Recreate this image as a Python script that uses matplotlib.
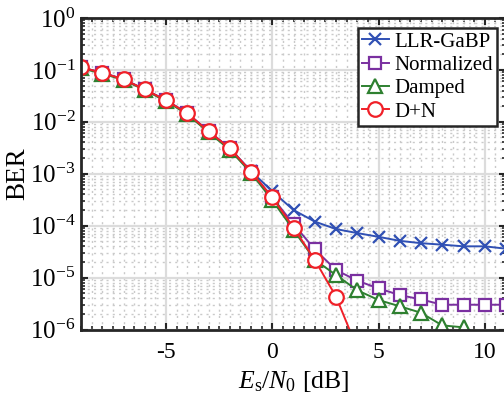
import numpy as np
import matplotlib
matplotlib.use("Agg")
import matplotlib.pyplot as plt
import matplotlib.ticker as mticker

plt.rcParams.update({
    "font.family": ["Liberation Serif", "DejaVu Serif"],
    "mathtext.fontset": "custom",
    "mathtext.rm": "Liberation Serif",
    "mathtext.it": "Liberation Serif:italic",
    "font.size": 15,
})

# Es/N0 [dB]
snr = np.arange(-9, 12)

ber_llr = [0.112, 0.088, 0.066, 0.042, 0.026, 0.0146, 0.0066, 0.0031, 0.00112,
           4.6e-4, 2.0e-4, 1.2e-4, 8.6e-5, 7.2e-5, 6.1e-5, 5.1e-5, 4.6e-5, 4.3e-5,
           4.0e-5, 4.0e-5, 3.6e-5]
ber_norm = [0.112, 0.088, 0.066, 0.042, 0.026, 0.0146, 0.0066, 0.0031, 0.00110,
            3.5e-4, 1.07e-4, 3.5e-5, 1.4e-5, 8.7e-6, 6.2e-6, 4.6e-6, 3.8e-6, 3.0e-6,
            3.0e-6, 3.0e-6, 3.0e-6]
ber_damp = [0.108, 0.085, 0.064, 0.041, 0.025, 0.0140, 0.0063, 0.0029, 0.00104,
            3.1e-4, 8.3e-5, 2.2e-5, 1.12e-5, 5.7e-6, 3.7e-6, 2.8e-6, 2.1e-6, 1.2e-6,
            1.1e-6, 7.0e-7, 6.0e-7]
ber_dn = [0.112, 0.088, 0.066, 0.042, 0.026, 0.0146, 0.0066, 0.0031, 0.00110,
          3.5e-4, 9.2e-5, 2.2e-5, 4.3e-6, 4.3e-7, 4.0e-8, 4.0e-9, 4.0e-10, 4.0e-11,
          4.0e-12, 4.0e-13, 4.0e-14]

C_BLUE, C_PURP, C_GREEN, C_RED = "#3050b4", "#7a30a0", "#2e8030", "#f02028"

fig = plt.figure(figsize=(5.04, 4.0), dpi=100)
ax = fig.add_axes([81 / 504, 1 - 329.5 / 400, 425 / 504, 311.5 / 400])

ax.semilogy(snr, ber_llr, "-x", color=C_BLUE, lw=1.4, ms=8, mew=1.6, label="LLR-GaBP")
ax.semilogy(snr, ber_norm, "-s", color=C_PURP, lw=1.4, ms=8.5, mew=1.6, mfc="white",
            label="Normalized")
ax.semilogy(snr, ber_damp, "-^", color=C_GREEN, lw=1.4, ms=10, mew=1.6, mfc="white",
            label="Damped")
ax.semilogy(snr, ber_dn, "-o", color=C_RED, lw=1.4, ms=10.5, mew=1.6, mfc="white",
            label="D+N")

ax.set_xlim(-9, 11)
ax.set_ylim(1e-6, 1)
ax.set_xticks([-5, 0, 5, 10])
ax.set_xticklabels(["-5", "0", "5", "10"])
ax.xaxis.set_minor_locator(mticker.MultipleLocator(0.5))
ax.yaxis.set_minor_locator(mticker.LogLocator(base=10, subs=np.arange(2, 10), numticks=20))
ax.yaxis.set_minor_formatter(mticker.NullFormatter())
ax.set_yticks([10.0 ** k for k in range(-6, 1)])
ax.set_yticklabels([r"$\mathregular{10^{%d}}$" % k for k in range(-6, 1)])

ax.grid(True, which="major", color="#dcdcdc", lw=1.6, ls="-")
ax.grid(True, which="minor", color="#cacaca", lw=1.0, ls=(0, (1.5, 3)))
ax.set_axisbelow(True)

ax.tick_params(which="both", direction="in", top=True, right=True, color="#262626")
ax.tick_params(which="major", length=5, width=1.5)
ax.tick_params(which="minor", length=3, width=1.2)
ax.tick_params(axis="x", which="major", labelsize=17, pad=9)
ax.tick_params(axis="y", which="major", labelsize=18, pad=4)
for sp in ax.spines.values():
    sp.set_linewidth(2.0)
    sp.set_color("#262626")

ax.set_xlabel(r"$E_\mathrm{s}/N_0$ [dB]", fontsize=18.5, labelpad=4)
ax.set_ylabel("BER", fontsize=19.5, labelpad=0)

leg = ax.legend(loc="upper right", bbox_to_anchor=((497 - 81) / 425, 1 - 10 / 311.5),
                fontsize=15, handlelength=1.3, handletextpad=0.25, borderpad=0.2,
                labelspacing=0.18, borderaxespad=0, fancybox=False, framealpha=1)
leg.get_frame().set_edgecolor("#262626")
leg.get_frame().set_linewidth(1.8)

fig.savefig("out.png", dpi=100)
